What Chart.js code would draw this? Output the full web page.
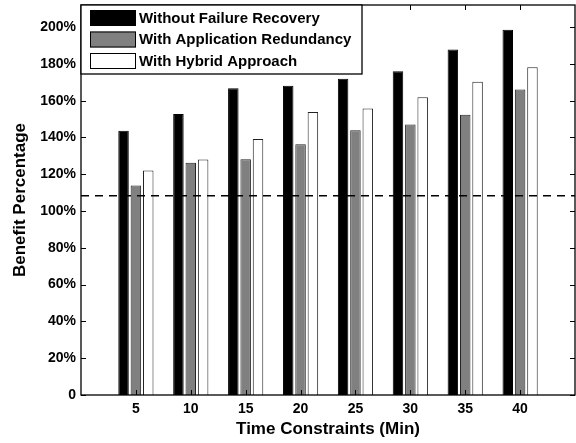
<!DOCTYPE html>
<html lang="en">
<head>
    <meta charset="UTF-8">
    <title>Benefit Percentage vs Time Constraints</title>
    <script src="https://cdn.jsdelivr.net/npm/chart.js"></script>
    <style>
        html, body { margin: 0; padding: 0; background: #fff; overflow: hidden; }
        #wrap { position: relative; width: 576px; height: 443px; }
    </style>
</head>
<body>
    <div id="wrap"><canvas id="benefitChart"></canvas></div>

    <script>
        // Time constraints in minutes (x categories)
        const timeLabels = ['5', '10', '15', '20', '25', '30', '35', '40'];
        // Benefit percentage per approach
        const noRecovery    = [143.7, 152.7, 166.7, 168.1, 171.9, 176.0, 187.8, 198.6];
        const appRedundancy = [113.9, 126.2, 128.2, 136.3, 143.9, 147.0, 152.4, 166.1];
        const hybrid        = [122.1, 128.0, 139.2, 153.8, 155.8, 161.9, 170.3, 178.2];
        // Horizontal reference level (dashed line)
        const baseline = 108.3;
        const yTicks = [0, 20, 40, 60, 80, 100, 120, 140, 160, 180, 200];
        const yMax = 212;

        // empty slots at both ends so the groups sit one step in from the frame
        const labels = [''].concat(timeLabels, ['']);
        const pad = arr => [null].concat(arr, [null]);

        const FONT = "'Liberation Sans', Arial, Helvetica, sans-serif";

        // frame, inward ticks and the boxed legend in the upper-left corner
        const framePlugin = {
            id: 'frame',
            afterDatasetsDraw(chart) {
                const { ctx, chartArea: a, scales: { x, y } } = chart;
                ctx.save();
                ctx.strokeStyle = '#000';
                ctx.lineWidth = 1;
                ctx.beginPath();
                yTicks.forEach(v => {
                    const py = Math.round(y.getPixelForValue(v)) + 0.5;
                    ctx.moveTo(a.left, py); ctx.lineTo(a.left + 5, py);
                    ctx.moveTo(a.right, py); ctx.lineTo(a.right - 5, py);
                });
                timeLabels.forEach((t, i) => {
                    const px = Math.round(x.getPixelForValue(i + 1)) + 0.5;
                    ctx.moveTo(px, a.bottom); ctx.lineTo(px, a.bottom - 5);
                    ctx.moveTo(px, a.top); ctx.lineTo(px, a.top + 5);
                });
                ctx.stroke();
                ctx.lineWidth = 1.3;
                ctx.strokeRect(a.left, a.top, a.right - a.left, a.bottom - a.top);

                // legend
                const bx = a.left, by = a.top, bw = 281, bh = 69;
                ctx.fillStyle = '#fff';
                ctx.fillRect(bx, by, bw, bh);
                ctx.strokeRect(bx, by, bw, bh);
                ctx.font = 'bold 15px ' + FONT;
                ctx.textBaseline = 'middle';
                const bars = chart.data.datasets.filter(d => d.type !== 'line');
                bars.forEach((d, i) => {
                    const ry = by + 5 + i * 21.5;
                    ctx.fillStyle = d.backgroundColor;
                    ctx.fillRect(bx + 9, ry, 46, 16);
                    ctx.lineWidth = 1;
                    ctx.strokeStyle = '#000';
                    ctx.strokeRect(bx + 9.5, ry + 0.5, 45, 15);
                    ctx.fillStyle = '#000';
                    ctx.fillText(d.label, bx + 58, ry + 8.5);
                });
                ctx.restore();
            }
        };

        // drop the label-overhang padding chart.js reserves at the axis ends
        const noEndPadding = scale => {
            scale.paddingLeft = 0;
            scale.paddingRight = 0;
            scale.paddingTop = 0;
            scale.paddingBottom = 0;
        };

        new Chart(document.getElementById('benefitChart'), {
            type: 'bar',
            data: {
                labels: labels,
                datasets: [
                    {
                        label: 'Without Failure Recovery',
                        data: pad(noRecovery),
                        backgroundColor: '#000000',
                        borderColor: '#000000',
                        borderWidth: 1,
                        order: 1
                    },
                    {
                        label: 'With Application Redundancy',
                        data: pad(appRedundancy),
                        backgroundColor: '#808080',
                        borderColor: '#222222',
                        borderWidth: 1,
                        order: 1
                    },
                    {
                        label: 'With Hybrid Approach',
                        data: pad(hybrid),
                        backgroundColor: '#ffffff',
                        borderColor: '#222222',
                        borderWidth: 1,
                        order: 1
                    },
                    {
                        type: 'line',
                        label: 'baseline',
                        data: labels.map(() => baseline),
                        borderColor: '#000',
                        borderWidth: 1.6,
                        borderDash: [8, 6],
                        pointRadius: 0,
                        fill: false,
                        order: 0
                    }
                ]
            },
            options: {
                responsive: true,
                maintainAspectRatio: false,
                animation: false,
                layout: { padding: { top: 5, right: 1, left: 0, bottom: 0 } },
                datasets: {
                    bar: { categoryPercentage: 0.675, barPercentage: 0.85 }
                },
                plugins: {
                    legend: { display: false },
                    tooltip: { enabled: false }
                },
                scales: {
                    x: {
                        offset: false,
                        grid: { display: false, drawTicks: false },
                        border: { display: false },
                        ticks: {
                            autoSkip: false,
                            maxRotation: 0,
                            padding: 6,
                            color: '#000',
                            font: { family: FONT, size: 14, weight: 'bold' }
                        },
                        title: {
                            display: true,
                            text: 'Time Constraints (Min)',
                            color: '#000',
                            padding: { top: 0, bottom: 3 },
                            font: { family: FONT, size: 17, weight: 'bold' }
                        },
                        afterFit(scale) { scale.height = 48; noEndPadding(scale); }
                    },
                    y: {
                        min: 0,
                        max: yMax,
                        grid: { display: false, drawTicks: false },
                        border: { display: false },
                        afterBuildTicks(scale) {
                            scale.ticks = yTicks.map(v => ({ value: v }));
                        },
                        ticks: {
                            padding: 5,
                            color: '#000',
                            font: { family: FONT, size: 14, weight: 'bold' },
                            callback: v => v === 0 ? '0' : v + '%'
                        },
                        title: {
                            display: true,
                            text: 'Benefit Percentage',
                            color: '#000',
                            padding: { top: 10, bottom: 0 },
                            font: { family: FONT, size: 17, weight: 'bold' }
                        },
                        afterFit(scale) { scale.width = 81; noEndPadding(scale); }
                    }
                }
            },
            plugins: [framePlugin]
        });
    </script>
</body>
</html>
